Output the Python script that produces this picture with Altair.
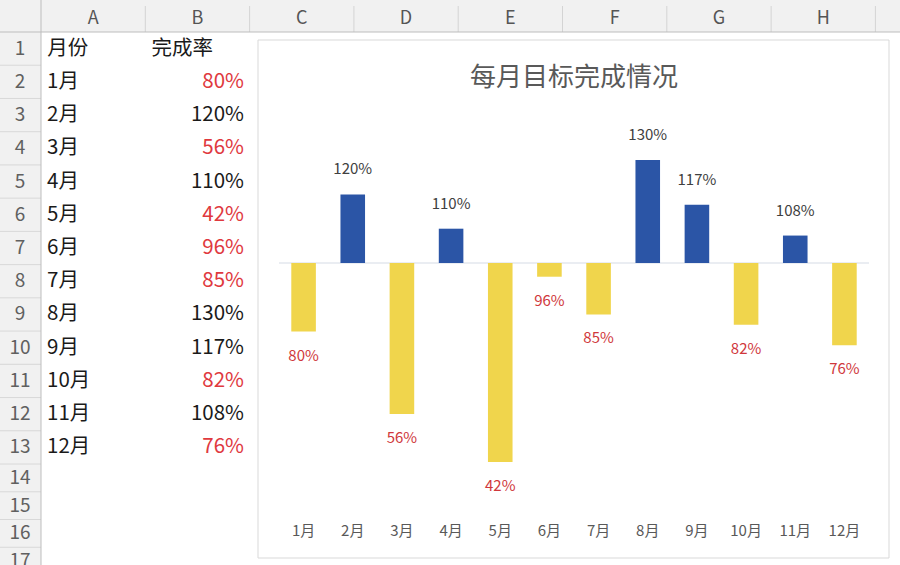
import altair as alt
import pandas as pd

# ---------------- data ----------------
months = ["1月", "2月", "3月", "4月", "5月", "6月", "7月", "8月", "9月", "10月", "11月", "12月"]
rates = [80, 120, 56, 110, 42, 96, 85, 130, 117, 82, 108, 76]
table_rows = list(range(2, 14))          # spreadsheet rows holding the months
col_letters = ["A", "B", "C", "D", "E", "F", "G", "H"]
row_numbers = list(range(1, 18))
table_header = ["月份", "完成率"]
chart_title = "每月目标完成情况"
TARGET = 100

FONT = "Noto Sans CJK SC"
BLUE = "#2B55A6"
YELLOW = "#F0D54C"
RED = "#D0383C"
TABLE_RED = "#E0393E"
DARK = "#404040"
GREY = "#595959"

df = pd.DataFrame({"month": months, "rate": rates, "row": table_rows})
df["label"] = df["rate"].astype(str) + "%"
cols = pd.DataFrame({"letter": col_letters, "idx": list(range(1, len(col_letters) + 1))})
rows = pd.DataFrame({"num": row_numbers})
hdr = pd.DataFrame({"text": [chart_title]})
base = pd.DataFrame({"target": [TARGET]})
one = pd.DataFrame({"k": [0]})

# ---------------- scales ----------------
col_scale = alt.Scale(domain=[0.5, 9.5], range=[41, 979.7], nice=False, zero=False)
row_scale = alt.Scale(domain=[0.5, 13.5, 17.5], range=[32, 464, 575], nice=False, zero=False)
month_scale = alt.Scale(domain=months, range=[279, 869], paddingInner=0.5, paddingOuter=0.25)
rate_scale = alt.Scale(domain=[30, 140], range=[503.1, 125.8], nice=False, zero=False)

# ---------------- spreadsheet decoration ----------------
header_bg = alt.Chart(one).mark_rect(color="#F1F1F1").encode(
    x=alt.value(0), x2=alt.value(900), y=alt.value(0), y2=alt.value(32))
rowhead_bg = alt.Chart(one).mark_rect(color="#F1F1F1").encode(
    x=alt.value(0), x2=alt.value(41), y=alt.value(32), y2=alt.value(565))

header_sep = alt.Chart(cols).transform_calculate(b="datum.idx + 0.5").mark_rule(
    color="#D4D4D4", strokeWidth=1).encode(
    x=alt.X("b:Q", scale=col_scale, axis=None), y=alt.value(6), y2=alt.value(32))
col_text = alt.Chart(cols).mark_text(font=FONT, fontSize=18, color="#555555").encode(
    x=alt.X("idx:Q", scale=col_scale, axis=None), y=alt.value(19), text="letter:N")

row_sep = alt.Chart(rows).transform_calculate(b="datum.num + 0.5").mark_rule(
    color="#D8D8D8", strokeWidth=1).encode(
    y=alt.Y("b:Q", scale=row_scale, axis=None), x=alt.value(0), x2=alt.value(41))
row_text = alt.Chart(rows).mark_text(font=FONT, fontSize=19, color="#606060").encode(
    y=alt.Y("num:Q", scale=row_scale, axis=None), x=alt.value(20), text="num:N")

header_line = alt.Chart(one).mark_rule(color="#BDBDBD", strokeWidth=1).encode(
    y=alt.value(32), x=alt.value(0), x2=alt.value(900))
rowhead_line = alt.Chart(one).mark_rule(color="#BDBDBD", strokeWidth=1).encode(
    x=alt.value(41), y=alt.value(0), y2=alt.value(565))

# ---------------- spreadsheet table ----------------
hdr_cells = pd.DataFrame({"text": table_header, "row": [1, 1], "c": [1, 2]})
table_hdr = alt.Chart(hdr_cells).transform_calculate(xc="datum.c").mark_text(
    font=FONT, fontSize=20.5, color="#1A1A1A", align="left", dx=-46).encode(
    x=alt.X("xc:Q", scale=col_scale, axis=None),
    y=alt.Y("row:Q", scale=row_scale, axis=None), text="text:N")
table_month = alt.Chart(df).mark_text(
    font=FONT, fontSize=20.5, color="#1A1A1A", align="left").encode(
    x=alt.value(47), y=alt.Y("row:Q", scale=row_scale, axis=None), text="month:N")
table_rate = alt.Chart(df).mark_text(
    font=FONT, fontSize=20.5, align="right").encode(
    x=alt.value(244), y=alt.Y("row:Q", scale=row_scale, axis=None), text="label:N",
    color=alt.condition(f"datum.rate >= {TARGET}", alt.value("#1A1A1A"), alt.value(TABLE_RED)))

# ---------------- chart ----------------
box = alt.Chart(one).mark_rect(fill="white", stroke="#D9D9D9", strokeWidth=1).encode(
    x=alt.value(258), x2=alt.value(889), y=alt.value(40), y2=alt.value(558))
title_t = alt.Chart(hdr).mark_text(font=FONT, fontSize=26, color=GREY).encode(
    x=alt.value(574), y=alt.value(78), text="text:N")
zero_line = alt.Chart(base).mark_rule(color="#D6DCE5", strokeWidth=1.2).encode(
    y=alt.Y("target:Q", scale=rate_scale, axis=None), x=alt.value(279), x2=alt.value(869))

bars = alt.Chart(df).mark_bar().encode(
    x=alt.X("month:N", scale=month_scale, axis=None, sort=months),
    y=alt.Y("rate:Q", scale=rate_scale, axis=None),
    y2=alt.datum(TARGET),
    color=alt.condition(f"datum.rate >= {TARGET}", alt.value(BLUE), alt.value(YELLOW)))

pos_lbl = alt.Chart(df).transform_filter(f"datum.rate >= {TARGET}").mark_text(
    font=FONT, fontSize=15, color=DARK, dy=-25).encode(
    x=alt.X("month:N", scale=month_scale, axis=None, sort=months),
    y=alt.Y("rate:Q", scale=rate_scale, axis=None), text="label:N")
neg_lbl = alt.Chart(df).transform_filter(f"datum.rate < {TARGET}").mark_text(
    font=FONT, fontSize=15, color=RED, dy=24).encode(
    x=alt.X("month:N", scale=month_scale, axis=None, sort=months),
    y=alt.Y("rate:Q", scale=rate_scale, axis=None), text="label:N")
month_lbl = alt.Chart(df).mark_text(font=FONT, fontSize=15, color=GREY).encode(
    x=alt.X("month:N", scale=month_scale, axis=None, sort=months),
    y=alt.value(531), text="month:N")

chart = alt.layer(
    header_bg, rowhead_bg, header_sep, col_text, row_sep, row_text,
    header_line, rowhead_line, table_hdr, table_month, table_rate,
    box, title_t, zero_line, bars, pos_lbl, neg_lbl, month_lbl,
).resolve_scale(x="independent", y="independent").properties(
    width=900, height=565, padding=0,
    autosize=alt.AutoSizeParams(type="none"),
).configure_view(strokeWidth=0).configure(font=FONT, background="white")

chart.save("out.html", embed_options={"renderer": "svg", "actions": False})
